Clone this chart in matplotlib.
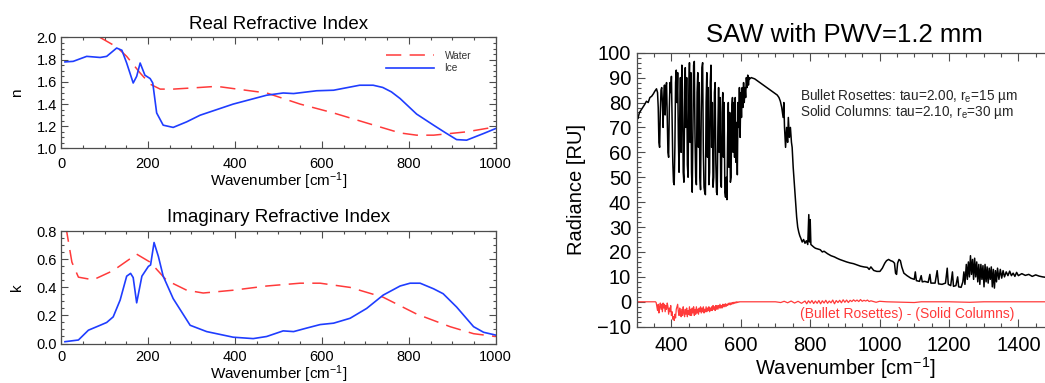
import matplotlib
matplotlib.use("Agg")
import matplotlib.pyplot as plt
from matplotlib.ticker import MultipleLocator, FormatStrFormatter

plt.rcParams['font.family'] = ['Liberation Sans', 'DejaVu Sans']
plt.rcParams['mathtext.default'] = 'regular'
plt.rcParams['lines.scale_dashes'] = False

# ---------------- data: real refractive index ----------------
water_n_wn = [10, 50, 90, 128, 151, 182, 205, 228, 258, 320, 358, 396, 473, 550, 627, 703, 780, 818, 857, 933, 1000]
water_n = [2.30, 2.12, 2.00, 1.915, 1.83, 1.68, 1.58, 1.535, 1.535, 1.55, 1.56, 1.54, 1.50, 1.40, 1.32, 1.23, 1.14, 1.12, 1.12, 1.15, 1.195]

ice_n_wn = [9, 28, 59, 90, 105, 128, 140, 151, 166, 174, 182, 193, 205, 211, 220, 235, 258, 289, 320, 396, 473,
            511, 535, 588, 627, 687, 718, 740, 760, 780, 818, 857, 885, 910, 933, 972, 1000]
ice_n = [1.78, 1.785, 1.83, 1.82, 1.83, 1.905, 1.885, 1.77, 1.59, 1.65, 1.77, 1.66, 1.63, 1.59, 1.32, 1.21, 1.19,
         1.24, 1.30, 1.40, 1.48, 1.50, 1.495, 1.52, 1.525, 1.57, 1.57, 1.55, 1.51, 1.45, 1.31, 1.21, 1.14, 1.08,
         1.075, 1.135, 1.18]

# ---------------- data: imaginary refractive index ----------------
water_k_wn = [5, 13, 25, 40, 74, 120, 174, 205, 243, 289, 327, 396, 473, 550, 596, 665, 741, 818, 895, 949, 1000]
water_k = [1.0, 0.80, 0.58, 0.473, 0.454, 0.52, 0.637, 0.58, 0.45, 0.38, 0.36, 0.38, 0.41, 0.43, 0.43, 0.40,
           0.33, 0.21, 0.12, 0.07, 0.05]

ice_k_wn = [9, 40, 63, 90, 105, 120, 136, 151, 160, 166, 174, 186, 201, 206, 214, 224, 235, 258, 297, 335, 396,
            442, 473, 511, 535, 565, 596, 627, 665, 703, 741, 780, 803, 826, 857, 879, 910, 949, 972, 1000]
ice_k = [0.013, 0.025, 0.095, 0.13, 0.15, 0.19, 0.31, 0.48, 0.50, 0.47, 0.29, 0.48, 0.55, 0.56, 0.72, 0.62, 0.48,
         0.32, 0.13, 0.085, 0.045, 0.035, 0.05, 0.09, 0.085, 0.11, 0.135, 0.145, 0.18, 0.25, 0.345, 0.41, 0.43,
         0.43, 0.39, 0.355, 0.26, 0.12, 0.08, 0.06]

# ---------------- data: SAW radiance spectrum ----------------
saw_wn = [300, 301, 303, 308, 315, 322, 328, 333, 338, 343, 348, 352, 357,
          360, 362, 364, 366, 368, 370, 372, 374, 376, 378, 380, 382, 384, 386, 388, 390, 392, 394, 396, 398,
          400, 402, 404, 406, 408, 410, 412, 414, 416, 418, 420, 422, 424, 426, 428, 430, 432, 434, 436, 438,
          440, 442, 444, 446, 448, 450, 452, 454, 456, 458, 460, 462, 464, 466, 468, 470, 472, 474, 476, 478,
          480, 482, 484, 486, 488, 490, 492, 494, 496, 498, 500, 502, 504, 506, 508, 510, 512, 514, 516, 518,
          520, 522, 524, 526, 528, 530, 532, 534, 536, 538, 540, 542, 544, 546, 548, 550, 552, 554, 556, 558,
          560, 562, 564, 566, 568, 570, 572, 574, 576, 578, 580, 582, 584, 586, 588, 590, 592, 594, 596, 598,
          600, 602, 604, 606, 608, 610, 612, 614, 616, 618, 620, 622, 624, 626,
          630, 640, 650, 660, 670, 680, 690, 700, 705, 710, 714, 718, 722, 724, 726, 729, 732, 735, 737,
          740, 743, 746, 748, 751, 755, 758, 761, 764, 767, 770, 773, 777, 781, 785, 789, 793, 796, 798, 800,
          802, 806, 810, 815, 820, 829, 835, 840, 850, 860, 870, 877, 885, 895, 905, 915, 925, 935, 945, 955,
          965, 970, 975, 983, 992, 1001, 1008, 1015, 1020, 1026, 1032, 1038, 1043, 1046, 1049, 1052, 1056, 1060,
          1064, 1070, 1079, 1090, 1100, 1103, 1106, 1115, 1120, 1123, 1130, 1140, 1145, 1148, 1160, 1166, 1170,
          1180, 1190, 1195, 1198, 1205, 1210, 1213, 1220, 1225, 1228, 1235, 1240, 1243, 1246, 1250, 1253, 1256,
          1259, 1262, 1265, 1268, 1271, 1274, 1277, 1280, 1283, 1286, 1289, 1292, 1295, 1298, 1301, 1304, 1307,
          1310, 1313, 1316, 1319, 1322, 1325, 1328, 1331, 1334, 1337, 1340, 1344, 1348, 1352, 1356, 1360, 1365,
          1370, 1375, 1380, 1385, 1390, 1395, 1400, 1410, 1420, 1430, 1440, 1450, 1460, 1470, 1480, 1490, 1500]
saw_rad = [58, 74.5, 73.5, 76, 77.5, 79, 80.5, 80, 82, 82.5, 83.5, 84.5, 85.5,
           84, 78, 64, 62, 76, 85, 86, 80, 70, 82, 87, 75, 86, 88, 74, 60, 58, 78, 88, 84,
           90.5, 72, 56, 48, 47, 62, 88, 93, 80, 92, 66, 52, 74, 90, 60, 95, 84, 52, 48, 78,
           94, 70, 90, 55, 50, 82, 96, 64, 92, 52, 44, 70, 95, 96.5, 66, 50, 47, 84, 92, 62,
           88, 50, 45, 76, 94, 96, 60, 46, 44, 43, 80, 92, 58, 86, 47, 52, 88, 95, 62, 80,
           46, 50, 84, 88, 56, 44, 43, 70, 86, 60, 82, 48, 46, 76, 84, 58, 80, 44, 42, 50,
           41, 66, 80, 54, 76, 48, 50, 78, 82, 60, 80, 58, 82, 56, 72, 51, 80, 70, 86, 66,
           84, 74, 86, 78, 88, 80, 86, 82, 90, 86, 91, 87, 90, 89.5,
           90, 89.5, 88.5, 87.5, 86.5, 85.5, 84.5, 83.5, 83, 82, 80.5, 78, 74, 80, 70, 62, 70, 64, 74,
           66, 70, 64, 62, 54, 46, 40, 34, 30, 28, 26.5, 25.5, 24, 25, 23.5, 24.5, 23, 35, 24, 33,
           23, 22.5, 22, 21.5, 21.3, 20.9, 20, 20.3, 19.3, 18.5, 18, 17.5, 17, 16.5, 16, 15.6, 15.3, 14.8, 14.3, 14,
           13.8, 13, 14, 12.6, 12.2, 12.2, 13.5, 15.5, 16.5, 17, 16.5, 16.2, 15.5, 11.5, 11, 15.5, 17, 16.5,
           14, 11.5, 10.5, 9.5, 9, 12, 8.5, 8.2, 10.5, 8, 8.2, 7.8, 11, 7.5, 7.5, 12.5, 7.2,
           7, 7.5, 13.5, 7, 6.5, 12, 6.2, 6.5, 10, 6, 5.8, 8, 12, 7, 15, 9, 16,
           10, 18.5, 11, 17, 9, 17.5, 10, 16, 8, 15, 7, 15, 9, 14.5, 6, 15, 8,
           14, 7.5, 13.5, 9, 14, 6, 13, 5.5, 12.5, 8, 13.5, 9, 13, 9.5, 12.5, 10, 12,
           10.5, 12.3, 10.5, 11.5, 10.2, 11.8, 10.5, 11.3, 10.6, 11, 10.2, 10.8, 10.3, 10, 9.8, 9.9, 9.7]

diff_wn = [300, 340, 354, 356, 358, 360, 362, 364, 366, 368, 370, 372, 374, 376, 378, 380, 382, 384, 386, 388,
           390, 392, 394, 396, 398, 400, 402, 404, 406, 408, 410, 412, 414, 416, 418, 420, 422, 424, 426, 428,
           430, 432, 434, 436, 438, 440, 442, 444, 446, 448, 450, 452, 454, 456, 458, 460, 462, 464, 466, 468,
           470, 472, 474, 476, 478, 480, 482, 484, 486, 488, 490, 492, 494, 496, 498, 500, 502, 504, 506, 508,
           510, 512, 514, 516, 518, 520, 522, 524, 526, 528, 530, 532, 534, 536, 538, 540, 542, 544, 546, 548,
           550, 552, 554, 556, 558, 560, 562, 564, 566, 568, 570, 572, 574, 576, 578, 580, 582, 584, 586, 588,
           590, 592, 594, 596, 600, 620, 700, 715, 725, 735, 745, 755, 765, 775, 785, 790, 795, 800, 805, 810,
           815, 820, 825, 830, 835, 840, 845, 850, 855, 860, 865, 870, 875, 880, 885, 890, 895, 900, 905, 910,
           915, 920, 925, 930, 935, 940, 945, 950, 955, 960, 965, 970, 975, 980, 990, 1000, 1020, 1100, 1120,
           1200, 1260, 1300, 1500]
diff_rad = [0, 0, 0, -0.3, -2, -3.5, -1, -4.5, -2, -0.5, -3, -1, -4, -0.5, -2.5, -1, -4, -1.5, -3, -0.5,
            -2, -5, -2.5, -4, -1.5, -5.5, -4, -7, -6, -7.5, -5, -6.5, -3, -2, -1, -4, -5.5, -2.5, -4, -6,
            -3, -5.5, -2, -4.5, -6, -3, -5, -2.5, -6, -3.5, -5, -2, -5.5, -3, -5.5, -2.5, -4.5, -2, -5.5, -3,
            -5, -2, -4.5, -3, -5, -2.5, -4, -2, -4.5, -2.5, -4, -2, -4.5, -3, -4, -2, -4, -2.5, -3.5, -2,
            -4, -2.5, -3.5, -2, -3.5, -1.5, -3, -2, -3.5, -1.5, -3, -1.5, -3, -1.5, -2.5, -1, -2.5, -1.5, -2.5, -1,
            -2, -1, -2, -0.8, -1.8, -1, -1.5, -0.6, -1.2, -0.5, -1.2, -0.4, -1, -0.3, -0.8, -0.2, -0.6, -0.1, -0.5, 0,
            -0.3, 0, -0.2, 0, 0, 0, 0, -0.3, 0.2, -0.4, 0.3, -0.5, 0.2, -0.6, 0.3, -0.8, 0.4, -0.5, 0.5, -0.7,
            0.3, -0.6, 0.5, -0.8, 0.4, -0.5, 0.6, -0.6, 0.3, -0.4, 0.7, -0.8, 0.5, -0.3, 0.6, -0.4, 0.8, -0.2, 0.7, -0.3,
            0.6, 0.1, 0.8, 0.2, 0.7, 0.1, 0.9, 0.2, 0.6, 0.3, 0.7, 0.1, 0.4, 0.2, -0.2, 0.2, 0, -0.3, 0,
            0, -0.2, 0, 0]

RED = '#ff3a3a'
BLUE = '#1f3dff'
SPINE = '0.3'

fig = plt.figure(figsize=(10.45, 3.83), dpi=100)


def style(ax, fs, major_len, minor_len, xpad, ypad):
    for s in ax.spines.values():
        s.set_color(SPINE)
        s.set_linewidth(0.9)
    ax.tick_params(which='both', direction='in', top=True, right=True, colors=SPINE,
                   labelcolor='black', labelsize=fs, width=0.8)
    ax.tick_params(which='major', length=major_len)
    ax.tick_params(which='minor', length=minor_len)
    ax.tick_params(axis='x', pad=xpad)
    ax.tick_params(axis='y', pad=ypad)


# ---- top-left: real ----
ax1 = fig.add_axes([0.0584, 0.6123, 0.416, 0.2898])
ax1.plot(water_n_wn, water_n, color=RED, lw=1.1, dashes=(11, 6), label='Water')
ax1.plot(ice_n_wn, ice_n, color=BLUE, lw=1.2, label='Ice')
ax1.set_xlim(0, 1000)
ax1.set_ylim(1.0, 2.0)
ax1.xaxis.set_major_locator(MultipleLocator(200))
ax1.xaxis.set_minor_locator(MultipleLocator(50))
ax1.yaxis.set_major_locator(MultipleLocator(0.2))
ax1.yaxis.set_minor_locator(MultipleLocator(0.05))
ax1.yaxis.set_major_formatter(FormatStrFormatter('%.1f'))
style(ax1, 10.5, 4.8, 2.4, 6, 3)
ax1.set_title('Real Refractive Index', fontsize=13.5, pad=6)
ax1.set_xlabel('Wavenumber [cm$^{-1}$]', fontsize=11, labelpad=0)
ax1.set_ylabel('n', fontsize=11, labelpad=9)
leg = ax1.legend(loc='upper left', bbox_to_anchor=(0.747, 0.88), frameon=False, fontsize=7.3,
                 handlelength=4.8, handletextpad=1.0, labelspacing=0.25, borderpad=0, borderaxespad=0)
for t in leg.get_texts():
    t.set_color('0.2')

# ---- bottom-left: imaginary ----
ax2 = fig.add_axes([0.0584, 0.1031, 0.416, 0.293])
ax2.plot(water_k_wn, water_k, color=RED, lw=1.1, dashes=(11, 6))
ax2.plot(ice_k_wn, ice_k, color=BLUE, lw=1.2)
ax2.set_xlim(0, 1000)
ax2.set_ylim(0.0, 0.8)
ax2.xaxis.set_major_locator(MultipleLocator(200))
ax2.xaxis.set_minor_locator(MultipleLocator(50))
ax2.yaxis.set_major_locator(MultipleLocator(0.2))
ax2.yaxis.set_minor_locator(MultipleLocator(0.05))
ax2.yaxis.set_major_formatter(FormatStrFormatter('%.1f'))
style(ax2, 10.5, 4.8, 2.4, 5, 3)
ax2.set_title('Imaginary Refractive Index', fontsize=13.5, pad=7)
ax2.set_xlabel('Wavenumber [cm$^{-1}$]', fontsize=11, labelpad=-1)
ax2.set_ylabel('k', fontsize=11, labelpad=9)

# ---- right: SAW spectrum ----
ax3 = fig.add_axes([0.6093, 0.147, 0.3984, 0.7154])
ax3.plot(saw_wn, saw_rad, color='black', lw=1.1)
ax3.plot(diff_wn, diff_rad, color=RED, lw=0.9)
ax3.set_xlim(300, 1500)
ax3.set_ylim(-10, 100)
ax3.xaxis.set_major_locator(MultipleLocator(200))
ax3.xaxis.set_minor_locator(MultipleLocator(50))
ax3.yaxis.set_major_locator(MultipleLocator(10))
ax3.yaxis.set_minor_locator(MultipleLocator(2))
style(ax3, 14.5, 6, 3, 7, 4)
ax3.set_title('SAW with PWV=1.2 mm', fontsize=18.5, pad=8)
ax3.set_xlabel('Wavenumber [cm$^{-1}$]', fontsize=14.5, labelpad=0)
ax3.set_ylabel('Radiance [RU]', fontsize=14.5, labelpad=8)
ax3.text(0.392, 0.813,
         'Bullet Rosettes: tau=2.00, r$_e$=15 µm\nSolid Columns: tau=2.10, r$_e$=30 µm',
         transform=ax3.transAxes, fontsize=9.8, va='center', ha='left', color='0.15',
         linespacing=0.82)
ax3.text(0.392, 0.045, '(Bullet Rosettes) - (Solid Columns)', transform=ax3.transAxes,
         fontsize=10, va='center', ha='left', color=RED)

fig.savefig('out.png', dpi=100)
